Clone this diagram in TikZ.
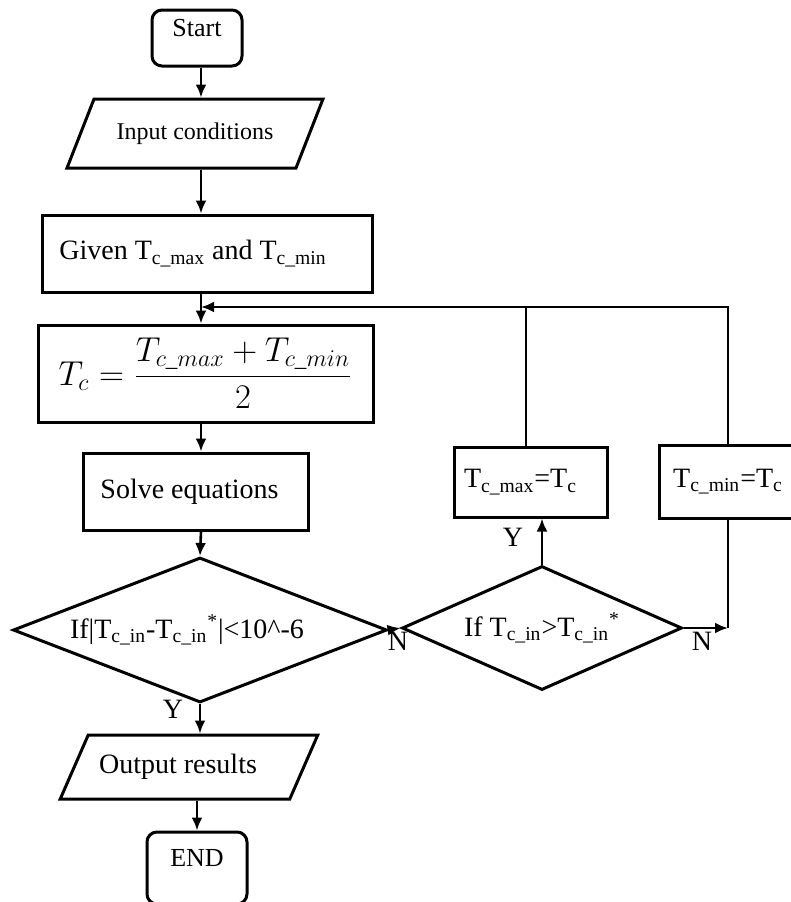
\documentclass[tikz,border=0pt]{standalone}
\usepackage{fontspec}
\setmainfont{Liberation Serif}
\usepackage{amsmath}
\usetikzlibrary{calc,shapes.geometric,arrows.meta}

\begin{document}
\begin{tikzpicture}[x=0.5pt,y=-0.5pt,>={Latex[length=6.5pt,width=5.5pt]},
	box/.style={draw,line width=1.5pt,inner sep=2pt,font=\fontsize{14}{16}\selectfont},
	term/.style={box,rounded corners=5pt,inner ysep=0pt,font=\fontsize{13}{15}\selectfont},
	io/.style={box,trapezium,trapezium stretches=true},
	cond/.style={box,diamond,inner sep=0pt},
	line/.style={line width=1.3pt},
	lbl/.style={font=\fontsize{14}{16}\selectfont,inner sep=0pt}]
			\useasboundingbox (0,0) rectangle (791,902);
			
			\coordinate (col) at (201,0);
			\node[term,minimum width=45pt,text height=13.1pt,text depth=14.9pt] (start) at (197,38) {Start};
			\node[io,font=\fontsize{12}{14}\selectfont,trapezium left angle=53.5,trapezium right angle=126.5,minimum width=128pt,minimum height=34.5pt] (input) at (195,133.5) {Input conditions};
			\node[box,minimum width=165pt,minimum height=38.5pt] (given) at (207,253.5) {Given T\textsubscript{c\_max} and T\textsubscript{c\_min}\hspace*{14pt}};
			\node[box,minimum width=167.5pt,minimum height=48.5pt,font=\fontsize{16.5}{19}\selectfont] (calc) at (205.5,373.5) {$\displaystyle T_c=\frac{T_{c\_max}+T_{c\_min}}{2}$};
			\node[box,minimum width=112.5pt,minimum height=38.5pt] (solve) at (195.5,491.5) {Solve equations\hspace*{6pt}};
			\node[cond,minimum width=187pt,minimum height=72.5pt,shape aspect=2.58] (chk) at (200,630) {If|T\textsubscript{c\_in}-T\textsubscript{c\_in}\textsuperscript{*}|<10\textasciicircum-6\hspace*{13pt}};
			\node[cond,minimum width=140pt,minimum height=62pt,shape aspect=2.26] (cmp) at (542,628) {If T\textsubscript{c\_in}>T\textsubscript{c\_in}\textsuperscript{*}};
			\node[box,minimum width=76.5pt,minimum height=35pt] (tmax) at (530.5,482) {T\textsubscript{c\_max}=T\textsubscript{c}\hspace*{10pt}};
			\node[box,minimum width=69pt,minimum height=36.5pt] (tmin) at (728,481.5) {T\textsubscript{c\_min}=T\textsubscript{c}};
			\node[io,trapezium left angle=52,trapezium right angle=128,minimum width=129pt,minimum height=32pt] (output) at (189,767) {Output results\hspace*{11pt}};
			\node[term,minimum width=50pt,text height=17.1pt,text depth=18.9pt] (stop) at (197,868) {END};
			
			\draw[line,->] (start.south -| col) -- (input.north -| col);
			\draw[line,->] (input.south -| col) -- (given.north -| col);
			\draw[line,->] (given.south -| col) -- (calc.north -| col);
			\draw[line,->] (calc.south -| col) -- (solve.north -| col);
			\draw[line,->] (solve.south -| col) -- (chk.north);
			\draw[line,->] (chk.south) -- (chk.south |- output.north);
			\draw[line,->] (output.south -| stop.north) -- (stop.north);
			
			%loop back
			\coordinate (join) at (201,307);
			\coordinate (cn) at (tmin.south |- cmp.east);
			\draw[line,->] (chk.east) -- (cmp.west);
			\draw[line,->] (cmp.north) -- (cmp.north |- tmax.south);
			\draw[line,->] (cmp.east) -- (cn);
			\draw[line] (cn) -- (tmin.south);
			\draw[line] ($(tmax.north)+(-4.5,0)$) -- ($(tmax.north |- join)+(-4.5,0)$);
			\draw[line,->] (tmin.north) |- (join);
			
			\node[lbl] (n1) at (398,641) {N};
			\node[lbl] (n2) at (702,641) {N};
			\node[lbl] (y1) at (173,709) {Y};
			\node[lbl] (y2) at (513,537) {Y};
		\end{tikzpicture}
\end{document}
